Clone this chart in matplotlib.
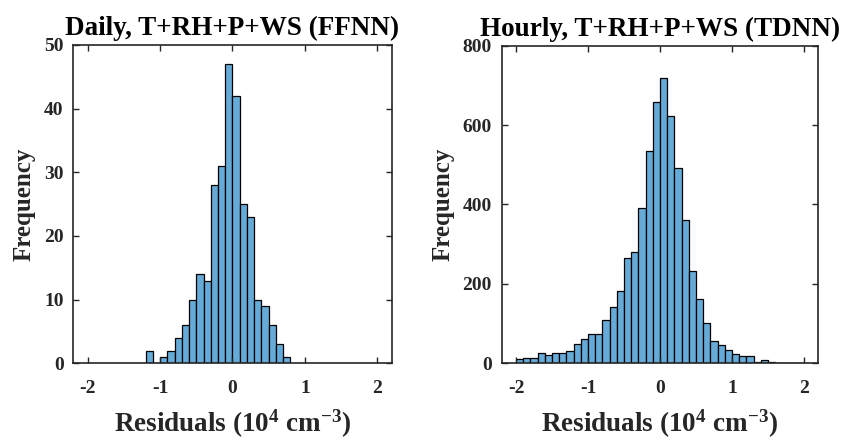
import matplotlib
matplotlib.use("Agg")
import matplotlib.pyplot as plt
import numpy as np

plt.rcParams['font.family'] = 'Liberation Serif'
plt.rcParams['font.weight'] = 'bold'
plt.rcParams['axes.labelweight'] = 'bold'
plt.rcParams['mathtext.fontset'] = 'custom'
plt.rcParams['mathtext.rm'] = 'Liberation Serif:bold'
plt.rcParams['mathtext.default'] = 'rm'
plt.rcParams['axes.unicode_minus'] = False

# bin edges (10^4 cm^-3), width 0.1
daily_edges = np.round(np.arange(-1.2, 0.8001, 0.1), 2)
daily_counts = [2, 0, 1, 2, 4, 6, 10, 14, 13, 28, 31, 47, 42, 25, 23, 10, 9, 6, 3, 1]

hourly_edges = np.round(np.arange(-2.0, 2.0001, 0.1), 2)
hourly_counts = [10, 13, 13, 25, 20, 25, 25, 30, 48, 60, 73, 73, 109, 141, 181, 264, 281, 390, 535, 659,
                 719, 623, 492, 360, 232, 162, 102, 56, 46, 33, 23, 18, 18, 3, 8, 4, 0, 0, 1, 0]

titles = ["Daily, T+RH+P+WS (FFNN)", "Hourly, T+RH+P+WS (TDNN)"]
yticks = [[0, 10, 20, 30, 40, 50], [0, 200, 400, 600, 800]]
ylims = [(0, 50), (0, 800)]
xticks = [-2, -1, 0, 1, 2]

face = '#66AAD7'
axcol = '#262626'

fig = plt.figure(figsize=(8.48, 4.41), dpi=100)
ax1 = fig.add_axes([0.0864, 0.1762, 0.3755, 0.7218])
ax2 = fig.add_axes([0.5916, 0.1762, 0.3734, 0.7204])

data = [(daily_edges, daily_counts), (hourly_edges, hourly_counts)]
for i, ax in enumerate([ax1, ax2]):
    edges, counts = data[i]
    ax.bar(edges[:-1], counts, width=0.1, align='edge', color=face,
           edgecolor='black', linewidth=0.9)
    ax.set_xlim(-2.2, 2.2)
    ax.set_ylim(*ylims[i])
    ax.set_xticks(xticks)
    ax.set_yticks(yticks[i])
    ax.tick_params(direction='in', top=True, right=True, length=4, width=1,
                   color=axcol, labelsize=14, labelcolor=axcol)
    ax.tick_params(axis='x', pad=12)
    ax.tick_params(axis='y', pad=7)
    for s in ax.spines.values():
        s.set_color(axcol)
        s.set_linewidth(1.2)
    ax.set_title(titles[i], fontsize=19.5, fontweight='bold', pad=7)
    ax.set_xlabel(r'Residuals (10$^{4}$ cm$^{-3}$)', fontsize=19.5, fontweight='bold',
                  color=axcol, labelpad=8)
    ax.set_ylabel('Frequency', fontsize=18, fontweight='bold', color=axcol, labelpad=6)

fig.savefig("out.png", dpi=100)
